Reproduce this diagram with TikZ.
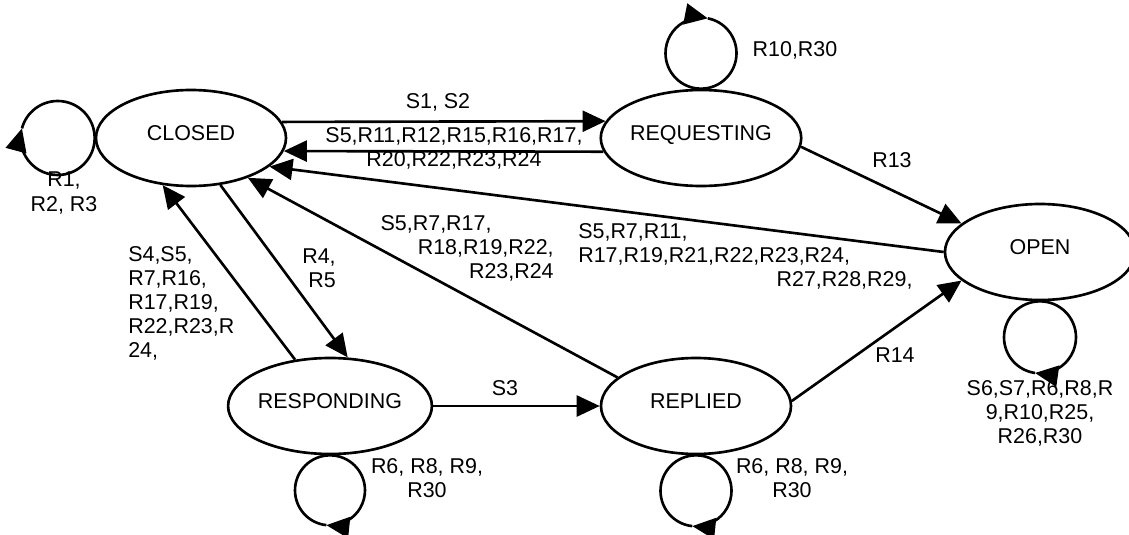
\documentclass[tikz,border=0pt]{standalone}
\usepackage{fontspec}
\setmainfont{Liberation Sans}
\usetikzlibrary{shapes.geometric,arrows.meta}

\begin{document}
\begin{tikzpicture}[
		> = {Triangle[length=0.46cm,width=0.42cm]}, % big filled heads
		line width = 1.5pt, % line style
		node distance = 1cm, % distance between nodes
		font=\fontsize{12.2}{13.7}\selectfont
		]
		
		\tikzset{
		state/.style={ellipse, draw, minimum width=3.8cm, minimum height=1.92cm, inner sep=0pt, text depth=0.2cm},
		lbl/.style={inner sep=0pt}
		}
		
		\useasboundingbox (-3.82,2.76) rectangle (18.76,-7.92);
		
		\node[state] (closed) at (0,0) {CLOSED};
		\node[state] (requesting) [right of=closed, node distance=10.2cm] {REQUESTING};
		\node[state] (open) [right of=requesting, node distance=6.78cm, yshift=-2.28cm] {OPEN};
		\node[state] (responding) [below of=closed, node distance=5.36cm, xshift=2.78cm] {RESPONDING};
		\node[state] (replied) [right of=responding, node distance=7.32cm] {REPLIED};
		
		\path[->]
		(closed.10)		edge (requesting.170)
		(requesting.188)	edge (closed.-8)
		(requesting.-5)	edge (open.160)
		(open.west)		edge (closed.-20)
		(replied.160)		edge (closed.-35)
		(closed.-58)		edge (responding.70)
		(responding.127)	edge (closed.239)
		(responding.east)	edge (replied.west)
		(replied.3)		edge (open.200)
		;
		
		% self loops
		\draw[->] (closed.west) arc[start angle=0, end angle=-195, radius=0.74cm];
		\draw (closed.west) arc[start angle=0, end angle=165, radius=0.74cm];
		\draw[->] (requesting.north) arc[start angle=-90, end angle=-281, radius=0.71cm];
		\draw (requesting.north) arc[start angle=-90, end angle=79, radius=0.71cm];
		\draw[->] (open.south) arc[start angle=90, end angle=-98, radius=0.72cm];
		\draw (open.south) arc[start angle=90, end angle=262, radius=0.72cm];
		\draw[->] (responding.south) arc[start angle=90, end angle=-96, radius=0.7cm];
		\draw (responding.south) arc[start angle=90, end angle=264, radius=0.7cm];
		\draw[->] (replied.south) arc[start angle=90, end angle=-96, radius=0.71cm];
		\draw (replied.south) arc[start angle=90, end angle=264, radius=0.71cm];
		
		% labels
		\node[lbl, align=center] (lclosed) at (-2.54,-1.1) {R1,\\R2, R3};
		\node[lbl] (lopen) at (4.94,0.72) {S1, S2};
		\node[lbl, align=center] (lback) at (5.26,-0.21) {S5,R11,R12,R15,R16,R17,\\R20,R22,R23,R24};
		\node[lbl] (lrequesting) at (12.08,1.76) {R10,R30};
		\node[lbl] (lreqopen) at (14.02,-0.44) {R13};
		\node[lbl, align=left, anchor=west] (lopenclosed) at (7.72,-2.37) {S5,R7,R11,\\R17,R19,R21,R22,R23,R24,\\\hspace*{9.25em}R27,R28,R29,};
		\node[lbl, align=right, anchor=east] (lrepclosed) at (7.28,-2.21) {S5,R7,R17,\hspace*{2.9em}\\R18,R19,R22,\\R23,R24};
		\node[lbl, align=right, anchor=east] (lclosresp) at (2.92,-2.61) {R4,\\R5};
		\node[lbl, align=left, anchor=west] (lrespclos) at (-1.28,-3.31) {S4,S5,\\R7,R16,\\R17,R19,\\R22,R23,R\\24,};
		\node[lbl] (lresprep) at (6.28,-5.0) {S3};
		\node[lbl] (lrepopen) at (14.08,-4.34) {R14};
		\node[lbl, align=center] (lresponding) at (4.72,-6.8) {R6, R8, R9,\\R30};
		\node[lbl, align=center] (lreplied) at (12.02,-6.8) {R6, R8, R9,\\R30};
		\node[lbl, align=center] (lopenloop) at (16.98,-5.5) {S6,S7,R6,R8,R\\9,R10,R25,\\R26,R30};
	\end{tikzpicture}
\end{document}
